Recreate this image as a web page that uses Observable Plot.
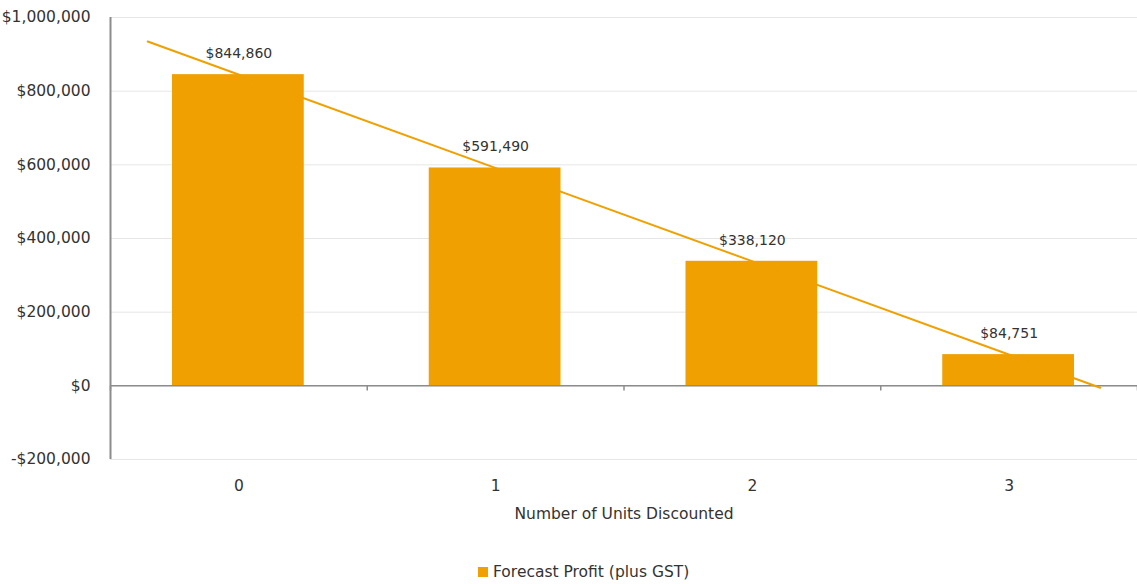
<!DOCTYPE html>
<html>
<head>
<meta charset="utf-8">
<script src="https://cdn.jsdelivr.net/npm/d3@7"></script>
<script src="https://cdn.jsdelivr.net/npm/@observablehq/plot@0.6"></script>
<style>
  html, body { margin: 0; padding: 0; background: #fff; }
  body { width: 1137px; height: 584px; overflow: hidden; font-family: "DejaVu Sans", sans-serif; }
  #legend { position: absolute; left: 478px; top: 563px; display: flex; align-items: center; font-size: 15.5px; color: #333; }
  #legend .sw { width: 10px; height: 10px; background: #F0A000; margin-right: 5px; }
</style>
</head>
<body>
<div id="chart"></div>
<div id="legend"><span class="sw"></span><span>Forecast Profit (plus GST)</span></div>
<script>
const units = [0, 1, 2, 3];
const profit = [844860, 591490, 338120, 84751];
const yTicks = [-200000, 0, 200000, 400000, 600000, 800000, 1000000];
const seriesName = "Forecast Profit (plus GST)";
const xTitle = "Number of Units Discounted";

const data = units.map((u, i) => ({units: u, profit: profit[i]}));

// linear trend line (least squares), extended a bit beyond the first and last category
const n = units.length;
const mx = d3.mean(units), my = d3.mean(profit);
const slope = d3.sum(units, (u, i) => (u - mx) * (profit[i] - my)) / d3.sum(units, u => (u - mx) ** 2);
const icpt = my - slope * mx;
const ext = 0.355;
const trend = [units[0] - ext, units[n - 1] + ext].map(x => ({x, y: icpt + slope * x}));
const bounds = d3.range(units[0] - 0.5, units[n - 1] + 1, 1);

const fmt = v => (v < 0 ? "-$" : "$") + d3.format(",")(Math.abs(v));

const chart = Plot.plot({
  width: 1137,
  height: 530,
  marginLeft: 110,
  marginRight: 0,
  marginTop: 17,
  marginBottom: 71,
  style: {fontFamily: "'DejaVu Sans', sans-serif", fontSize: "15.5px", color: "#333", background: "#fff"},
  x: {domain: [units[0] - 0.5, units[n - 1] + 0.5]},
  y: {domain: [yTicks[0], yTicks[yTicks.length - 1]]},
  marks: [
    Plot.gridY(yTicks, {stroke: "#e6e6e6", strokeOpacity: 1, strokeWidth: 1}),
    Plot.rectY(data, {x1: d => d.units - 0.5, x2: d => d.units + 0.5, y: "profit", insetLeft: 62, insetRight: 63, fill: "#F0A000"}),
    Plot.ruleY([0], {stroke: "#8c8c8c", strokeWidth: 1.5}),
    Plot.ruleX(bounds, {x: d => d, y1: 0, y2: -14000, stroke: "#8c8c8c", strokeWidth: 1.5}),
    Plot.ruleX([units[0] - 0.5], {y1: yTicks[0], y2: yTicks[yTicks.length - 1], stroke: "#8c8c8c", strokeWidth: 2}),
    Plot.line(trend, {x: "x", y: "y", stroke: "#F0A000", strokeWidth: 2}),
    Plot.text(data, {x: "units", y: "profit", text: d => fmt(d.profit), dy: -21, fill: "#333", fontSize: 14}),
    Plot.axisY(yTicks, {tickFormat: fmt, tickSize: 0, tickPadding: 20, label: null, fontSize: 15.5, fill: "#333"}),
    Plot.axisX(units, {tickFormat: d => String(d), tickSize: 0, tickPadding: 20, label: xTitle, labelAnchor: "center", labelArrow: "none", labelOffset: 59, fontSize: 15.5, fill: "#333"})
  ]
});
document.getElementById("chart").append(chart);
</script>
</body>
</html>
